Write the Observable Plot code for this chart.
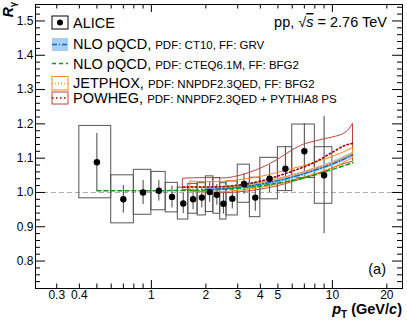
<!DOCTYPE html>
<html><head><meta charset="utf-8">
<script src="https://cdn.jsdelivr.net/npm/d3@7"></script>
<script src="https://cdn.jsdelivr.net/npm/@observablehq/plot@0.6"></script>
<style>
body{margin:0;background:#fff;}
#chart{position:relative;width:407px;height:322px;}
</style></head><body><div id="chart"></div>
<script>
// ALICE data
const ptLow    = [0.4,0.6,0.8,1.0,1.2,1.4,1.6,1.8,2.0,2.2,2.4,2.6,3.0,3.5,4,5,6,8];
const ptHigh   = [0.6,0.8,1.0,1.2,1.4,1.6,1.8,2.0,2.2,2.4,2.6,3.0,3.5,4,5,6,8,10];
const ptCenter = [0.5,0.7,0.9,1.1,1.3,1.5,1.7,1.9,2.1,2.3,2.5,2.8,3.25,3.75,4.5,5.5,7,9];
const rGamma   = [1.088,0.98,1.0,1.005,0.987,0.968,0.98,0.985,1.001,0.993,0.967,0.982,1.025,0.985,1.04,1.069,1.12,1.05];
const statLo   = [1.004,0.94,0.965,0.975,0.955,0.938,0.95,0.955,0.971,0.963,0.937,0.952,0.995,0.945,1.0,1.005,1.04,0.88];
const statHi   = [1.172,1.02,1.035,1.035,1.019,0.998,1.01,1.015,1.031,1.023,0.997,1.012,1.055,1.025,1.08,1.132,1.2,1.222];
const sysLo    = [0.983,0.91,0.935,0.948,0.942,0.921,0.938,0.933,0.943,0.938,0.921,0.933,0.97,0.928,0.98,1.004,1.042,0.967];
const sysHi    = [1.194,1.05,1.066,1.06,1.028,1.014,1.025,1.027,1.047,1.042,1.027,1.032,1.081,1.043,1.101,1.132,1.198,1.132];

// NLO pQCD, CTEQ6.1M, BFG2 (green)
const gX = [0.5,1,1.5,2,2.5,3,4,5,6,7,8,10,13];
const gY = [1.005,1.005,1.006,1.007,1.009,1.012,1.019,1.027,1.035,1.043,1.051,1.067,1.087];
// NLO pQCD, CT10, GRV (blue band)
const bX  = [2,2.5,3,4,5,6,7,8,10,13];
const bY  = [1.009,1.011,1.015,1.024,1.034,1.045,1.055,1.065,1.083,1.11];
const bLo = [1.003,1.005,1.009,1.018,1.027,1.038,1.048,1.058,1.076,1.102];
const bHi = [1.015,1.018,1.022,1.031,1.041,1.052,1.062,1.072,1.091,1.118];
// JETPHOX (orange)
const oX   = [1.65,2,2.5,3,4,5,6,7,8,10,13];
const oHi  = [1.032,1.03,1.031,1.035,1.045,1.057,1.068,1.077,1.087,1.103,1.129];
const oLo  = [1.002,1.0,1.001,1.005,1.013,1.023,1.034,1.044,1.053,1.07,1.1];
const oMid = [1.017,1.015,1.016,1.02,1.029,1.04,1.051,1.06,1.07,1.087,1.115];
// POWHEG (red)
const rX   = [1.5,2,2.5,3,4,5,6,7,8,9,10,12,13];
const rHi  = [1.04,1.042,1.041,1.047,1.069,1.095,1.122,1.14,1.148,1.155,1.16,1.176,1.2];
const rLo  = [1.008,1.0,0.998,1.0,1.008,1.018,1.03,1.04,1.05,1.06,1.07,1.085,1.09];
const rMid = [1.016,1.016,1.017,1.021,1.033,1.048,1.062,1.075,1.088,1.103,1.117,1.139,1.143];

// ticks
const xLabelTicks = [0.3,0.4,1,2,3,4,5,6,7,8,9,10,20];
const xLongTicks  = [1,10];
const xShortTicks = [0.3,0.4,0.5,0.6,0.7,0.8,0.9,2,3,4,5,6,7,8,9,20];
const yMajor = [0.8,0.9,1.0,1.1,1.2,1.3,1.4,1.5];
const yMinor = [0.72,0.74,0.76,0.78,0.82,0.84,0.86,0.88,0.92,0.94,0.96,0.98,1.02,1.04,1.06,1.08,1.12,1.14,1.16,1.18,1.22,1.24,1.26,1.28,1.32,1.34,1.36,1.38,1.42,1.44,1.46,1.48,1.52,1.54];

const W = 407, H = 322, mL = 35, mR = 5, mT = 4, mB = 34;
const iW = W - mL - mR, iH = H - mT - mB;

const alice = ptCenter.map((x,i)=>({x, y:rGamma[i], lo:ptLow[i], hi:ptHigh[i], sLo:sysLo[i], sHi:sysHi[i], eLo:statLo[i], eHi:statHi[i]}));
const green = gX.map((x,i)=>({x, y:gY[i]}));
const blue = bX.map((x,i)=>({x, y:bY[i], lo:bLo[i], hi:bHi[i]}));
const orange = oX.map((x,i)=>({x, y:oMid[i], lo:oLo[i], hi:oHi[i]}));
const red = rX.map((x,i)=>({x, y:rMid[i], lo:rLo[i], hi:rHi[i]}));

const cBlueFill = "#a6cff5", cBlue = "#1565c8", cGreen = "#00a000", cOrange = "#ff8a1c", cRed = "#c0443c", cRedDot = "#a00000";

const svgEl = Plot.plot({
  width: W, height: H,
  marginLeft: mL, marginRight: mR, marginTop: mT, marginBottom: mB,
  style: {fontFamily: "'Liberation Sans', Arial, sans-serif", fontSize: "12px", background: "white", color: "black"},
  x: {type: "log", domain: [0.229, 24.4]},
  y: {domain: [0.72, 1.548]},
  marks: [
    Plot.ruleY([1], {stroke: "#aaa", strokeDasharray: "5,3"}),
    Plot.rect(alice, {x1: "lo", x2: "hi", y1: "sLo", y2: "sHi", fill: "none", stroke: "#555", strokeWidth: 1}),
    Plot.ruleX(alice, {x: "x", y1: "eLo", y2: "eHi", stroke: "#444", strokeWidth: 1}),
    Plot.areaY(blue, {x: "x", y1: "lo", y2: "hi", fill: cBlueFill, fillOpacity: 0.9, curve: "monotone-x"}),
    Plot.areaY(red, {x: "x", y1: "lo", y2: "hi", fill: "none", stroke: cRed, strokeWidth: 1, curve: "monotone-x"}),
    Plot.areaY(orange, {x: "x", y1: "lo", y2: "hi", fill: "none", stroke: cOrange, strokeWidth: 1, curve: "monotone-x"}),
    Plot.line(blue, {x: "x", y: "y", stroke: cBlue, strokeWidth: 1.5, strokeDasharray: "5,2,1,2", curve: "monotone-x"}),
    Plot.line(green, {x: "x", y: "y", stroke: cGreen, strokeWidth: 1.5, strokeDasharray: "4,3", curve: "monotone-x"}),
    Plot.line(orange, {x: "x", y: "y", stroke: cOrange, strokeWidth: 1.5, strokeDasharray: "1,2", curve: "monotone-x"}),
    Plot.line(red, {x: "x", y: "y", stroke: cRedDot, strokeWidth: 1.6, strokeDasharray: "1.5,2.5", curve: "monotone-x"}),
    Plot.dot(alice, {x: "x", y: "y", r: 3.2, fill: "black"}),
    // ROOT-style inward ticks
    Plot.ruleX(xLongTicks, {x: d=>d, insetTop: iH - 8, stroke: "black"}),
    Plot.ruleX(xShortTicks, {x: d=>d, insetTop: iH - 4.5, stroke: "black"}),
    Plot.ruleX(xLongTicks, {x: d=>d, insetBottom: iH - 8, stroke: "black"}),
    Plot.ruleX(xShortTicks, {x: d=>d, insetBottom: iH - 4.5, stroke: "black"}),
    Plot.ruleY(yMajor, {y: d=>d, insetRight: iW - 10, stroke: "black"}),
    Plot.ruleY(yMinor, {y: d=>d, insetRight: iW - 5, stroke: "black"}),
    Plot.ruleY(yMajor, {y: d=>d, insetLeft: iW - 10, stroke: "black"}),
    Plot.ruleY(yMinor, {y: d=>d, insetLeft: iW - 5, stroke: "black"}),
    Plot.axisX({ticks: xLabelTicks, tickSize: 0, tickPadding: 2, tickFormat: d => String(d), label: null, fontSize: 12}),
    Plot.axisY({ticks: yMajor, tickSize: 0, tickPadding: 2, tickFormat: d => d.toFixed(1), label: null, fontSize: 12}),
    Plot.frame({stroke: "black", strokeWidth: 1})
  ]
});
document.getElementById("chart").append(svgEl);

// Annotations and legend
const svg = d3.select(svgEl);
const ff = "'Liberation Sans', Arial, sans-serif";
const g = svg.append("g").attr("font-family", ff).attr("text-anchor", "start").attr("fill", "black");

// y-axis title R_gamma
const yt = g.append("text").attr("transform", "translate(13,2) rotate(-90)").attr("text-anchor", "end")
  .attr("font-size", 14).attr("font-weight", "bold");
yt.append("tspan").attr("font-style", "italic").text("R");
yt.append("tspan").attr("font-size", 9).attr("dy", 3).text("γ");

// x-axis title
const xt = g.append("text").attr("x", 402).attr("y", 314).attr("text-anchor", "end").attr("font-size", 14.5).attr("font-weight", "bold");
xt.append("tspan").attr("font-style", "italic").text("p");
xt.append("tspan").attr("font-size", 10).attr("dy", 4).text("T");
xt.append("tspan").attr("dy", -4).text(" (GeV/");
xt.append("tspan").attr("font-style", "italic").text("c");
xt.append("tspan").text(")");

// energy label
const en = g.append("text").attr("x", 387).attr("y", 27).attr("text-anchor", "end").attr("font-size", 14.5);
en.append("tspan").text("pp, √");
en.append("tspan").attr("font-style", "italic").attr("text-decoration", "overline").text("s");
en.append("tspan").text(" = 2.76 TeV");

// panel label
g.append("text").attr("x", 386).attr("y", 274).attr("text-anchor", "end").attr("font-size", 14.5).text("(a)");

// legend
const lx0 = 52, lx1 = 68, tx = 73, small = 11.5;
// ALICE
g.append("rect").attr("x", lx0).attr("y", 16).attr("width", lx1-lx0).attr("height", 13).attr("fill", "none").attr("stroke", "black");
g.append("circle").attr("cx", (lx0+lx1)/2).attr("cy", 22.5).attr("r", 3).attr("fill", "black");
g.append("text").attr("x", tx).attr("y", 27.5).attr("font-size", 14.5).text("ALICE");
// NLO CT10
g.append("rect").attr("x", lx0).attr("y", 38).attr("width", lx1-lx0).attr("height", 13).attr("fill", cBlueFill);
g.append("line").attr("x1", lx0).attr("x2", lx1).attr("y1", 44.5).attr("y2", 44.5).attr("stroke", cBlue).attr("stroke-width", 1.5).attr("stroke-dasharray", "5,2,1,2");
const t1 = g.append("text").attr("x", tx).attr("y", 48.5).attr("font-size", 14.5);
t1.append("tspan").text("NLO pQCD, ");
t1.append("tspan").attr("font-size", small).text("PDF: CT10, FF: GRV");
// NLO CTEQ
g.append("line").attr("x1", lx0).attr("x2", lx1).attr("y1", 63.5).attr("y2", 63.5).attr("stroke", cGreen).attr("stroke-width", 1.5).attr("stroke-dasharray", "4,3");
const t2 = g.append("text").attr("x", tx).attr("y", 68.5).attr("font-size", 14.5);
t2.append("tspan").text("NLO pQCD, ");
t2.append("tspan").attr("font-size", small).text("PDF: CTEQ6.1M, FF: BFG2");
// JETPHOX
g.append("rect").attr("x", lx0).attr("y", 76.5).attr("width", lx1-lx0).attr("height", 13.5).attr("fill", "none").attr("stroke", cOrange);
g.append("line").attr("x1", lx0).attr("x2", lx1).attr("y1", 83.5).attr("y2", 83.5).attr("stroke", cOrange).attr("stroke-width", 1.5).attr("stroke-dasharray", "1,2");
const t3 = g.append("text").attr("x", tx).attr("y", 87.5).attr("font-size", 14.5);
t3.append("tspan").text("JETPHOX, ");
t3.append("tspan").attr("font-size", small).text("PDF: NNPDF2.3QED, FF: BFG2");
// POWHEG
g.append("rect").attr("x", lx0).attr("y", 92).attr("width", lx1-lx0).attr("height", 12).attr("fill", "none").attr("stroke", cRed);
g.append("line").attr("x1", lx0).attr("x2", lx1).attr("y1", 98).attr("y2", 98).attr("stroke", cRedDot).attr("stroke-width", 1.6).attr("stroke-dasharray", "1.5,2.5");
const t4 = g.append("text").attr("x", tx).attr("y", 103).attr("font-size", 14.5);
t4.append("tspan").text("POWHEG, ");
t4.append("tspan").attr("font-size", small).text("PDF: NNPDF2.3QED + PYTHIA8 PS");
</script>
</body></html>
